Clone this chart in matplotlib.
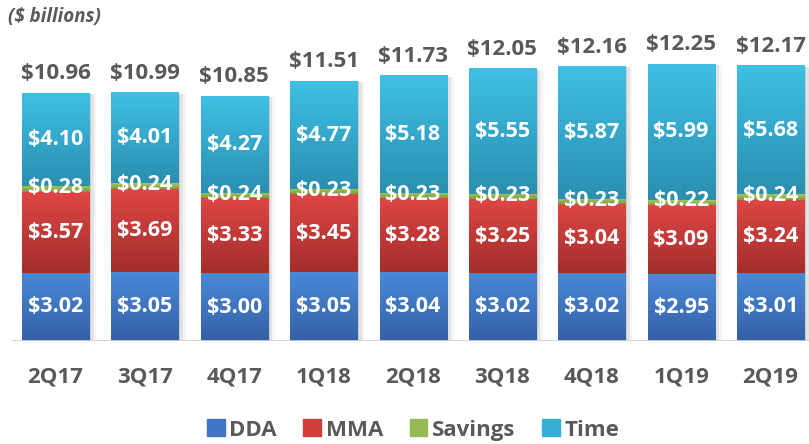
import matplotlib
matplotlib.use("Agg")
import matplotlib.pyplot as plt
import numpy as np
from matplotlib.colors import LinearSegmentedColormap
from matplotlib.patches import Patch, Rectangle

categories = ["2Q17", "3Q17", "4Q17", "1Q18", "2Q18", "3Q18", "4Q18", "1Q19", "2Q19"]
dda = [3.02, 3.05, 3.00, 3.05, 3.04, 3.02, 3.02, 2.95, 3.01]
mma = [3.57, 3.69, 3.33, 3.45, 3.28, 3.25, 3.04, 3.09, 3.24]
savings = [0.28, 0.24, 0.24, 0.23, 0.23, 0.23, 0.23, 0.22, 0.24]
time = [4.10, 4.01, 4.27, 4.77, 5.18, 5.55, 5.87, 5.99, 5.68]
totals = ["$10.96", "$10.99", "$10.85", "$11.51", "$11.73", "$12.05", "$12.16", "$12.25", "$12.17"]
series_names = ["DDA", "MMA", "Savings", "Time"]

series = [dda, mma, savings, time]
grad = [("#4a88d8", "#3461a6"), ("#de4644", "#a32e2c"),
        ("#a6c860", "#7d9c3c"), ("#3ec0e4", "#2a8fb0")]
solid = ["#3f75c4", "#d03f3d", "#95b953", "#35aed6"]

FONT = "Open Sans"
GRAY = "#595959"

fig = plt.figure(figsize=(8.09, 4.44), dpi=100)
ax = fig.add_axes([12/809, 1 - 341/444, 1 - 12/809, 341/444])
ax.set_xlim(-0.487, 8.43)
ax.set_ylim(0, 15.09)
ax.axis("off")

w = 0.75
x = np.arange(len(categories))
for i in range(len(categories)):
    tot = sum(s[i] for s in series)
    for k, a in enumerate([0.10, 0.07, 0.04]):
        ax.add_patch(Rectangle((x[i] - w/2 + 0.02 + 0.03*k, 0), w, tot - 0.05,
                               color="#000000", alpha=a, lw=0, zorder=1))
    bottom = 0
    for s, (ctop, cbot) in zip(series, grad):
        v = s[i]
        cmap = LinearSegmentedColormap.from_list("g", [cbot, ctop])
        g = np.linspace(0, 1, 64).reshape(-1, 1)
        ax.imshow(g, cmap=cmap, origin="lower", aspect="auto",
                  extent=(x[i] - w/2, x[i] + w/2, bottom, bottom + v), zorder=2)
        bottom += v
    b = 0
    for j, s in enumerate(series):
        v = s[i]
        yc = b + v/2 + (0.05 if j == 2 else 0)
        ax.text(x[i], yc, f"${v:.2f}", ha="center", va="center", color="white",
                fontsize=15.5, fontweight="bold", family=FONT, zorder=4)
        b += v
    ax.text(x[i], tot + 0.85, totals[i], ha="center", va="center", color=GRAY,
            fontsize=16, fontweight="bold", family=FONT, zorder=4)
    ax.text(x[i], -1.6, categories[i], ha="center", va="center", color=GRAY,
            fontsize=16, fontweight="bold", family=FONT, clip_on=False)

ax.axhline(0, color="#d0d0d0", lw=2, zorder=3)

fig.text(8/809, 1 - 17/444, "($ billions)", ha="left", va="center", color=GRAY,
         fontsize=13.5, fontweight="bold", style="italic", family=FONT)

handles = [Patch(facecolor=c, edgecolor=c) for c in solid]
leg = fig.legend(handles, series_names, loc="center", bbox_to_anchor=(413/809, 1 - 430/444),
                 ncol=4, frameon=False, handlelength=0.8, handleheight=0.8,
                 handletextpad=0.2, columnspacing=1.2,
                 prop={"family": FONT, "weight": "bold", "size": 16})
for t in leg.get_texts():
    t.set_color(GRAY)

fig.savefig("out.png", dpi=100)
